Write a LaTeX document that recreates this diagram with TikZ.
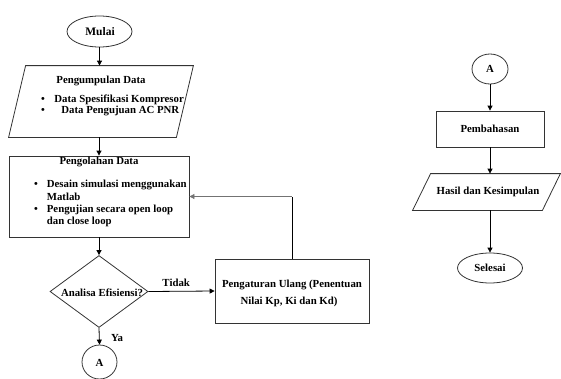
\documentclass[tikz,border=0pt]{standalone}
\usepackage{fontspec}
\setmainfont{Liberation Serif}
\usetikzlibrary{arrows.meta,shapes.geometric}
\begin{document}
\begin{tikzpicture}[x=1pt,y=-1pt,
  line width=0.8pt,
  every node/.style={font=\fontsize{10.8}{11}\selectfont\bfseries},
  txt/.style={inner sep=0pt},
  lft/.style={inner sep=0pt,anchor=west},
  shp/.style={draw=black!80,inner sep=0pt},
  ghost/.style={inner sep=0pt},
  oval/.style={shp,ellipse},
  box/.style={shp,rectangle},
  arr/.style={draw=black,-{Triangle[length=5pt,width=5pt]}}]
\useasboundingbox (0,0) rectangle (561,378);

% left column
\node[oval,minimum width=65pt,minimum height=31pt] (mulai) at (99.5,31.5) {};
\node[txt] (mulait) at (100,31.5) {\fontsize{11.5}{12}\selectfont Mulai};

\node[ghost,minimum width=184pt,minimum height=71pt] (p1) at (101,101.5) {};
\draw[draw=black!80] ([xshift=17pt]p1.north west) -- (p1.north east) -- ([xshift=-17pt]p1.south east) -- (p1.south west) -- cycle;
\node[txt] (p1t) at (101,81) {Pengumpulan Data};
\node[txt] (p1b1) at (43,99.5) {\textbullet};
\node[lft] (p1l1) at (54,99.5) {Data Spesifikasi Kompresor};
\node[txt] (p1b2) at (43,110.5) {\textbullet};
\node[lft] (p1l2) at (61,110.5) {Data Pengujuan AC PNR};

\node[box,minimum width=180pt,minimum height=81pt] (r1) at (99,196.5) {};
\node[txt] (r1t) at (99,161.5) {Pengolahan Data};
\node[txt] (r1b1) at (36,185) {\textbullet};
\node[lft] (r1l1) at (46.5,185) {Desain simulasi menggunakan};
\node[lft] (r1l2) at (46.5,196.5) {Matlab};
\node[txt] (r1b2) at (36,210) {\textbullet};
\node[lft] (r1l3) at (46.5,210) {Pengujian secara open loop};
\node[lft] (r1l4) at (46.5,222) {dan close loop};

\node[shp,diamond,minimum width=98pt,minimum height=72pt] (d) at (99,291.5) {};
\node[txt] (dt) at (102,292.5) {Analisa Efisiensi?};

\node[box,minimum width=154pt,minimum height=64pt] (q) at (292,291) {};
\node[txt] (ql1) at (292,285) {Pengaturan Ulang (Penentuan};
\node[txt] (ql2) at (289,302) {Nilai Kp, Ki dan Kd)};

\node[oval,minimum width=35pt,minimum height=34pt] (a1) at (99.5,362) {};
\node[txt] (a1t) at (99.5,363) {A};

% connectors left
\draw[arr] (mulai.south) -- (mulai.south |- p1.north);
\draw[arr] (r1.north |- p1.south) -- (r1.north);
\draw[arr] (r1.south) -- (d.north);
\draw[arr] (d.east) -- (q.west) node[txt,pos=0.42,above=4pt] (tidak) {Tidak};
\draw[black] (q.north) -- (q.north |- r1.east);
\draw[draw=black!55,-{Triangle[length=5pt,width=5pt]}] (q.north |- r1.east) -- (r1.east);
\draw[arr] (d.south) -- (a1.north);
\node[txt] (ya) at (117,338) {Ya};

% right column
\node[oval,minimum width=36pt,minimum height=30pt] (a2) at (490,69) {};
\node[txt] (a2t) at (490,69) {A};
\node[box,minimum width=108pt,minimum height=36pt] (b) at (490,129) {};
\node[txt] (bt) at (490,129) {Pembahasan};
\node[ghost,minimum width=147pt,minimum height=36pt] (h) at (486.5,192) {};
\draw[draw=black!80] ([xshift=18pt]h.north west) -- (h.north east) -- ([xshift=-18pt]h.south east) -- (h.south west) -- cycle;
\node[txt] (ht) at (488,192) {Hasil dan Kesimpulan};
\node[oval,minimum width=65pt,minimum height=30pt] (s) at (490,268) {};
\node[txt] (st) at (490,268) {Selesai};

\draw[arr] (a2.south) -- (b.north);
\draw[arr] (b.south) -- (b.south |- h.north);
\draw[arr] (b.south |- h.south) -- (s.north);
\end{tikzpicture}
\end{document}
